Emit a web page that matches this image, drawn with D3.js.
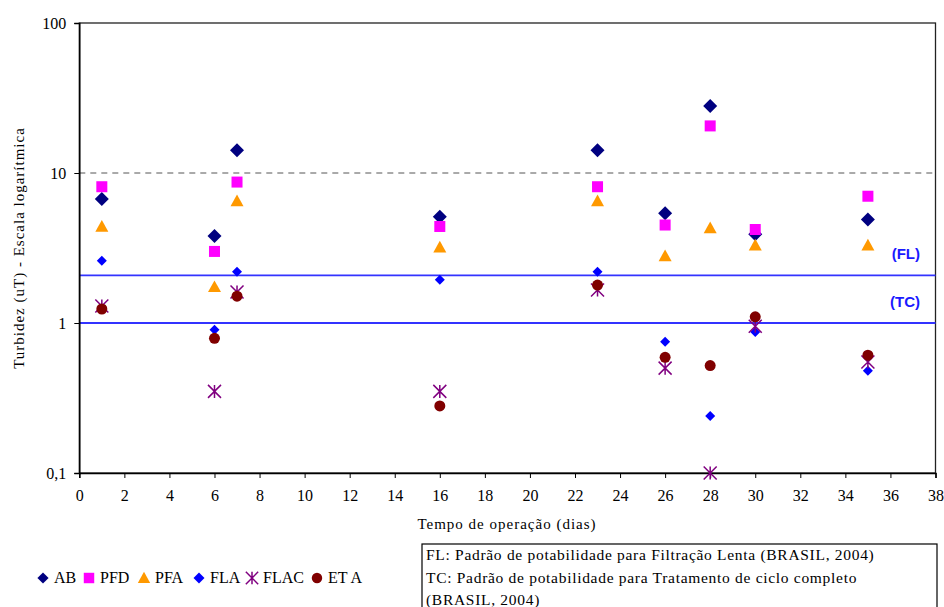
<!DOCTYPE html>
<html><head><meta charset="utf-8">
<script src="https://cdn.jsdelivr.net/npm/d3@7"></script>
<style>body{margin:0;background:#fff}svg{display:block}</style>
</head><body>
<script>
const days = [1, 6, 7, 16, 23, 26, 28, 30, 35];
const AB   = [6.7, 3.8, 14.2, 5.1, 14.2, 5.4, 28, 3.9, 4.9];
const PFD  = [8.1, 3.0, 8.7, 4.4, 8.1, 4.5, 20.6, 4.2, 7.0];
const PFA  = [4.4, 1.74, 6.5, 3.2, 6.5, 2.8, 4.3, 3.3, 3.3];
const FLA  = [2.6, 0.9, 2.2, 1.94, 2.2, 0.75, 0.24, 0.87, 0.48];
const FLAC = [1.3, 0.35, 1.61, 0.35, 1.66, 0.5, 0.1, 0.95, 0.55];
const ETA  = [1.24, 0.79, 1.51, 0.28, 1.79, 0.59, 0.52, 1.1, 0.61];
const xTicks = d3.range(0, 39, 2);
const yTicks = [0.1, 1, 10, 100];
const yTickLabels = ["0,1", "1", "10", "100"];
const refFL = 2.08, refTC = 1, refDash = 10;
const noteLines = ["FL: Padrão de potabilidade para Filtração Lenta (BRASIL, 2004)",
  "TC: Padrão de potabilidade para Tratamento de ciclo completo",
  "(BRASIL, 2004)"];

const series = [
  {name:"AB", vals:AB, color:"#000080", shape:"diamondBig"},
  {name:"PFD", vals:PFD, color:"#ff00ff", shape:"square"},
  {name:"PFA", vals:PFA, color:"#ff9900", shape:"triangle"},
  {name:"FLA", vals:FLA, color:"#0000ff", shape:"diamondSmall"},
  {name:"FLAC", vals:FLAC, color:"#800080", shape:"star"},
  {name:"ETA", vals:ETA, color:"#800000", shape:"circle"}
];

const W = 944, H = 607;
const L = 79.3, R = 935.5, T = 23, B = 473;
const svg = d3.select("body").append("svg").attr("width", W).attr("height", H);
const x = d3.scaleLinear().domain([0, 38]).range([L, R]);
const y = d3.scaleLog().domain([0.1, 100]).range([B, T]);
const serif = "'Liberation Serif','Times New Roman',serif";

// frame
svg.append("rect").attr("x", L).attr("y", T).attr("width", R - L).attr("height", B - T)
  .attr("fill", "none").attr("stroke", "#222").attr("stroke-width", 1.3);

// reference lines
svg.append("line").attr("x1", L).attr("x2", R).attr("y1", y(refDash)).attr("y2", y(refDash))
  .attr("stroke", "#555").attr("stroke-width", 1).attr("stroke-dasharray", "6,5");
[refFL, refTC].forEach(v => svg.append("line").attr("x1", L).attr("x2", R)
  .attr("y1", y(v)).attr("y2", y(v)).attr("stroke", "#3333ff").attr("stroke-width", 1.8));

const sans = "'Liberation Sans',Arial,sans-serif";
svg.append("text").attr("x", 920).attr("y", y(refFL) - 16).attr("text-anchor", "end")
  .attr("font-family", sans).attr("font-weight", "bold")
  .attr("font-size", 15).attr("fill", "#1a1aff").text("(FL)");
svg.append("text").attr("x", 920).attr("y", y(refTC) - 16).attr("text-anchor", "end")
  .attr("font-family", sans).attr("font-weight", "bold")
  .attr("font-size", 15).attr("fill", "#1a1aff").text("(TC)");

// axes
const xAxis = d3.axisBottom(x).tickValues(xTicks).tickSize(5).tickPadding(12).tickFormat(d3.format("d"));
const gx = svg.append("g").attr("transform", `translate(0,${B})`).call(xAxis);
gx.select(".domain").attr("stroke", "#000").attr("stroke-width", 1.5);
gx.selectAll("text").attr("font-family", serif).attr("font-size", 16).attr("fill", "#000");

const yAxis = d3.axisLeft(y).tickValues(yTicks).tickSize(5).tickPadding(8)
  .tickFormat((d, i) => yTickLabels[i]);
const gy = svg.append("g").attr("transform", `translate(${L},0)`).call(yAxis);
gy.select(".domain").attr("stroke", "#000").attr("stroke-width", 1.5);
gy.selectAll("text").attr("font-family", serif).attr("font-size", 16).attr("fill", "#000");

// axis titles
svg.append("text").attr("x", 507).attr("y", 529).attr("text-anchor", "middle")
  .attr("font-family", serif).attr("font-size", 15).attr("letter-spacing", 1)
  .text("Tempo de operação (dias)");
svg.append("text").attr("transform", `translate(24,248) rotate(-90)`)
  .attr("text-anchor", "middle").attr("font-family", serif).attr("font-size", 15)
  .attr("letter-spacing", 1).text("Turbidez (uT) - Escala logarítmica");

// marker drawing
function drawMarker(g, shape, color, cx, cy, scale) {
  scale = scale || 1;
  if (shape === "diamondBig" || shape === "diamondSmall") {
    const r = (shape === "diamondBig" ? 7 : 5) * scale;
    g.append("path").attr("d", `M${cx},${cy - r}L${cx + r},${cy}L${cx},${cy + r}L${cx - r},${cy}Z`).attr("fill", color);
  } else if (shape === "square") {
    const s = 11 * scale;
    g.append("rect").attr("x", cx - s / 2).attr("y", cy - s / 2).attr("width", s).attr("height", s).attr("fill", color);
  } else if (shape === "triangle") {
    const s = 6.5 * scale;
    g.append("path").attr("d", `M${cx},${cy - s}L${cx + s},${cy + s * 0.8}L${cx - s},${cy + s * 0.8}Z`).attr("fill", color);
  } else if (shape === "circle") {
    g.append("circle").attr("cx", cx).attr("cy", cy).attr("r", 5.5 * scale).attr("fill", color);
  } else if (shape === "star") {
    const r = 6.5 * scale;
    const d = `M${cx - r},${cy - r}L${cx + r},${cy + r}M${cx + r},${cy - r}L${cx - r},${cy + r}M${cx},${cy - r}L${cx},${cy + r}`;
    g.append("path").attr("d", d).attr("stroke", color).attr("stroke-width", 1.5).attr("fill", "none");
  }
}

const gp = svg.append("g");
series.forEach(s => {
  s.vals.forEach((v, i) => drawMarker(gp, s.shape, s.color, x(days[i]), y(v)));
});

// legend
const legendX = [43, 89, 144, 199, 252, 317];
const lg = svg.append("g");
series.forEach((s, i) => {
  drawMarker(lg, s.shape, s.color, legendX[i], 578, s.shape === "diamondBig" ? 0.8 : (s.shape === "diamondSmall" ? 1.1 : 0.95));
  lg.append("text").attr("x", legendX[i] + 11).attr("y", 583).attr("font-family", serif)
    .attr("font-size", 16).text(s.name === "ETA" ? "ET A" : s.name);
});

// note box
svg.append("rect").attr("x", 422).attr("y", 544).attr("width", 515).attr("height", 70)
  .attr("fill", "none").attr("stroke", "#000").attr("stroke-width", 1.2);
noteLines.forEach((t, i) => svg.append("text").attr("x", 426).attr("y", 560 + i * 22.5)
  .attr("font-family", serif).attr("font-size", 15.5).attr("letter-spacing", 0.7).text(t));
</script>
</body></html>
